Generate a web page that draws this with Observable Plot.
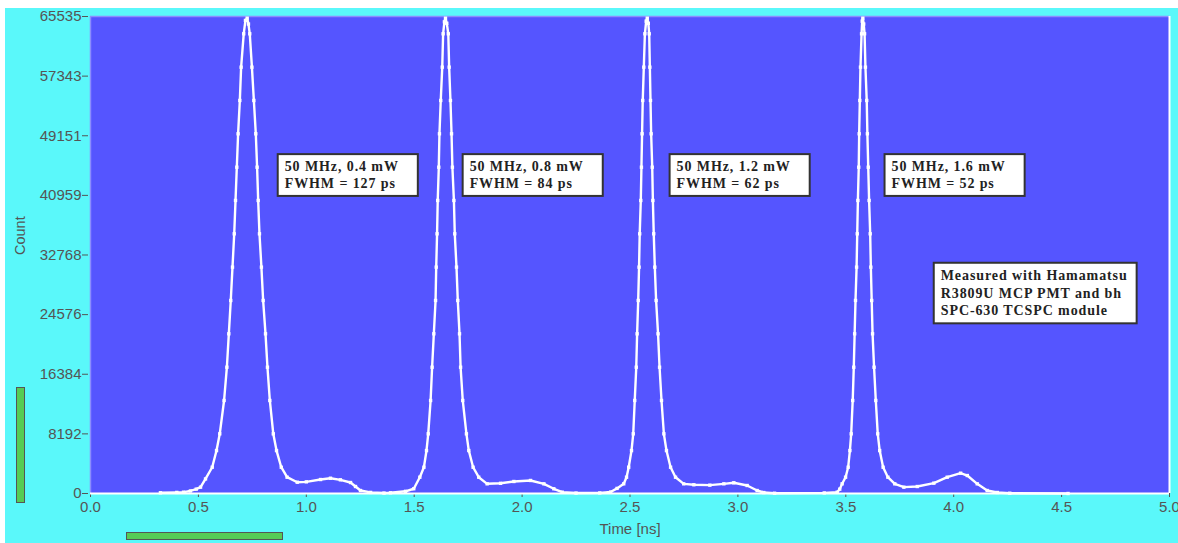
<!DOCTYPE html>
<html><head><meta charset="utf-8">
<script src="https://cdn.jsdelivr.net/npm/d3@7"></script>
<script src="https://cdn.jsdelivr.net/npm/@observablehq/plot@0.6"></script>
<style>
html,body{margin:0;padding:0;background:#fff;}
#wrap{position:absolute;left:5px;top:8px;width:1173px;height:535px;background:#5af8fa;overflow:hidden;}
.bar{position:absolute;background:#55cc55;border:1px solid #555;box-sizing:border-box;}
#vbar{left:11px;top:379px;width:9px;height:116px;}
#hbar{left:121px;top:524px;width:157px;height:8px;}
</style></head><body>
<div id="wrap"><div class="bar" id="vbar"></div><div class="bar" id="hbar"></div></div>
<script>
// ---- data ----
const peak1T = [0.324,0.40,0.431,0.463,0.490,0.510,0.533,0.564,0.584,0.599,0.619,0.632,0.641,0.650,0.658,0.666,0.672,0.678,0.684,0.692,0.698,0.710,0.718,0.726,0.732,0.738,0.748,0.757,0.766,0.772,0.777,0.783,0.792,0.800,0.811,0.820,0.831,0.847,0.862,0.884,0.911,0.958,1.000,1.066,1.112,1.158,1.205,1.228,1.251,1.298,1.36];
const peak1C = [100,150,180,350,600,870,2000,3610,5900,8200,12780,17350,21940,26520,31100,35680,40260,44830,49420,54000,58575,63160,65000,65300,64500,63160,58575,54000,49420,44830,40260,35680,31100,26520,21940,17350,12780,8200,5900,3610,2240,1550,1600,1920,2100,1880,1510,960,410,150,60];

const peak2T = [1.39,1.46,1.498,1.526,1.545,1.557,1.565,1.576,1.583,1.591,1.599,1.602,1.606,1.609,1.614,1.617,1.623,1.630,1.634,1.640,1.645,1.651,1.658,1.662,1.668,1.673,1.677,1.684,1.688,1.696,1.702,1.710,1.715,1.725,1.742,1.753,1.773,1.799,1.838,1.900,1.962,2.039,2.101,2.147,2.186,2.25];
const peak2C = [100,300,650,2240,3610,5900,8200,12780,17350,21940,26520,31100,35680,40260,44830,49420,54000,58575,63160,64800,65300,64600,63160,58575,54000,49420,44830,40260,35680,31100,26520,21940,17350,12780,8200,5900,3610,2240,1330,1400,1650,1790,1330,650,180,60];

const peak3T = [2.36,2.41,2.44,2.471,2.484,2.494,2.507,2.515,2.522,2.529,2.533,2.538,2.542,2.545,2.550,2.553,2.556,2.559,2.564,2.569,2.575,2.580,2.585,2.589,2.592,2.595,2.598,2.603,2.606,2.610,2.615,2.621,2.630,2.637,2.646,2.657,2.669,2.688,2.711,2.749,2.796,2.870,2.935,2.981,3.043,3.089,3.120,3.17];
const peak3C = [80,200,700,1330,2240,3610,5900,8200,12780,17350,21940,26520,31100,35680,40260,44830,49420,54000,58575,63160,64900,65300,64600,63160,58575,54000,49420,44830,40260,35680,31100,26520,21940,17350,12780,8200,5900,3610,2240,1330,1200,1150,1330,1470,1100,410,130,40];

const peak4T = [3.40,3.46,3.472,3.483,3.499,3.511,3.519,3.525,3.532,3.537,3.541,3.545,3.550,3.553,3.556,3.560,3.562,3.565,3.568,3.573,3.576,3.579,3.583,3.587,3.591,3.597,3.600,3.604,3.608,3.613,3.616,3.620,3.624,3.631,3.639,3.648,3.657,3.673,3.695,3.727,3.769,3.831,3.908,3.970,4.032,4.063,4.109,4.155,4.202,4.26,4.53];
const peak4C = [80,180,600,1330,2240,3610,5900,8200,12780,17350,21940,26520,31100,35680,40260,44830,49420,54000,58575,63160,64900,65300,64500,63160,58575,54000,49420,44830,40260,35680,31100,26520,21940,17350,12780,8200,5900,3610,2240,1330,870,960,1420,2240,2790,2470,1330,410,140,40,0];

const xTicks = [0,0.5,1,1.5,2,2.5,3,3.5,4,4.5,5];
const xTickLabels = ["0.0","0.5","1.0","1.5","2.0","2.5","3.0","3.5","4.0","4.5","5.0"];
const yTicks = [0,8192,16384,24576,32768,40959,49151,57343,65535];
const yTickLabels = ["0","8192","16384","24576","32768","40959","49151","57343","65535"];

const noteText = [
  "50 MHz, 0.4 mW\nFWHM = 127 ps",
  "50 MHz, 0.8 mW\nFWHM = 84 ps",
  "50 MHz, 1.2 mW\nFWHM = 62 ps",
  "50 MHz, 1.6 mW\nFWHM = 52 ps",
  "Measured with Hamamatsu\nR3809U MCP PMT and bh\nSPC-630 TCSPC module"
];
const noteTime = [0.900, 1.757, 2.716, 3.712, 3.940];
const noteCount = [45930, 45930, 45930, 45930, 31100];
const noteLineHeight = [1.2, 1.2, 1.2, 1.2, 1.27];
const notePadRight = [19, 19, 19, 19, 9];

// ---- build table ----
const data = [];
[[peak1T,peak1C],[peak2T,peak2C],[peak3T,peak3C],[peak4T,peak4C]].forEach(([T,C]) => {
  T.forEach((t,i) => data.push({t, c: C[i]}));
});
const notes = noteText.map((s,i) => ({s, t: noteTime[i], c: noteCount[i], pr: notePadRight[i], lh: noteLineHeight[i]}));
const noteStyle = {x: "t", y: "c", text: "s", textAnchor: "start", lineAnchor: "top",
  fontFamily: "'Liberation Serif', 'Times New Roman', serif", fontWeight: "bold", fontSize: 14, fill: "#222"};

const chart = Plot.plot({
  width: 1173, height: 535,
  marginLeft: 85, marginRight: 9, marginTop: 8, marginBottom: 50,
  style: {background: "transparent", fontFamily: "'Liberation Sans', Arial, sans-serif", fontSize: "15px", color: "#555", overflow: "visible"},
  x: {domain: [0,5]},
  y: {domain: [0,65535]},
  marks: [
    Plot.frame({fill: "#5555ff", stroke: null}),
    Plot.axisX({ticks: xTicks, tickFormat: (d) => xTickLabels[xTicks.indexOf(d)], tickSize: 4, tickPadding: 4, label: null, fontSize: 15}),
    Plot.axisY({ticks: yTicks, tickFormat: (d) => yTickLabels[yTicks.indexOf(d)], tickSize: 6, tickPadding: 1, label: null, dx: -2, fontSize: 15}),
    Plot.ruleX([0], {stroke: "#8c8cff", strokeWidth: 1.5}),
    Plot.ruleY([65535], {stroke: "#8c8cff", strokeWidth: 1.5}),
    Plot.ruleY([0], {stroke: "white", strokeWidth: 2}),
    Plot.ruleX([5], {stroke: "white", strokeWidth: 2}),
    Plot.line(data, {x: "t", y: "c", stroke: "white", strokeWidth: 2.4}),
    Plot.dot(data, {x: "t", y: "c", fill: "white", r: 1.9, symbol: "square"}),
    Plot.text(["Time [ns]"], {frameAnchor: "bottom", dy: 40, fontSize: 15, fill: "#555"}),
    Plot.text(["Count"], {frameAnchor: "left", dx: -70, rotate: -90, fontSize: 14.5, fill: "#555"}),
    Plot.text(notes.slice(0, 4), {...noteStyle, lineHeight: noteLineHeight[0]}),
    Plot.text(notes.slice(4), {...noteStyle, lineHeight: noteLineHeight[4]})
  ]
});
document.getElementById("wrap").appendChild(chart);

// white boxes behind the annotation texts, sized from the rendered text
const firstLines = notes.map(n => n.s.split("\n")[0]);
Array.from(chart.querySelectorAll("text")).forEach((el) => {
  const first = el.querySelector("tspan") ? el.querySelector("tspan").textContent : el.textContent;
  const i = firstLines.indexOf(first);
  if (i < 0) return;
  el.style.letterSpacing = "0.9px";
  const bb = el.getBBox();
  const r = document.createElementNS("http://www.w3.org/2000/svg", "rect");
  const pl = 7, pt = 5, pb = 5, pr = notes[i].pr;
  r.setAttribute("x", bb.x - pl);
  r.setAttribute("y", bb.y - pt);
  r.setAttribute("width", bb.width + pl + pr);
  r.setAttribute("height", bb.height + pt + pb);
  r.setAttribute("fill", "white");
  r.setAttribute("stroke", "#333");
  r.setAttribute("stroke-width", "2");
  const tr = el.getAttribute("transform");
  if (tr) r.setAttribute("transform", tr);
  el.parentNode.insertBefore(r, el);
});
</script>
</body></html>
